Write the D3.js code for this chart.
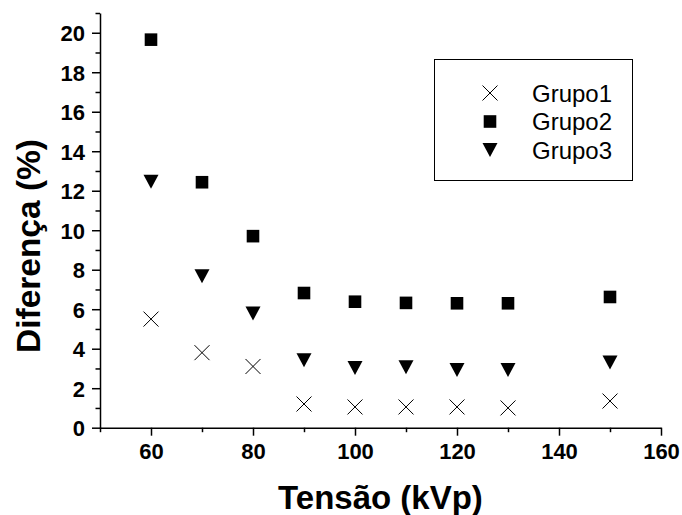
<!DOCTYPE html>
<html lang="pt">
<head>
  <meta charset="UTF-8">
  <title>Diferença (%) vs Tensão (kVp)</title>
  <script src="https://d3js.org/d3.v7.min.js"></script>
  <style>
    body { margin: 0; background: #fff; }
    text { font-family: Arial, "Liberation Sans", sans-serif; fill: #000; }
  </style>
</head>
<body>
<script>
// data
const tensao = [60, 70, 80, 90, 100, 110, 120, 130, 150];
const grupo1 = [5.5, 3.8, 3.1, 1.2, 1.05, 1.05, 1.05, 1.0, 1.35];
const grupo2 = [19.65, 12.43, 9.7, 6.82, 6.38, 6.32, 6.3, 6.3, 6.62];
const grupo3 = [12.45, 7.67, 5.78, 3.42, 3.02, 3.06, 2.92, 2.92, 3.3];
const seriesNames = ["Grupo1", "Grupo2", "Grupo3"];
const xMajorTicks = [60, 80, 100, 120, 140, 160];
const yMajorTicks = [0, 2, 4, 6, 8, 10, 12, 14, 16, 18, 20];

const width = 682, height = 515;
const svg = d3.select("body").append("svg")
  .attr("width", width)
  .attr("height", height);

const x = d3.scaleLinear().domain([50, 160]).range([100, 661]);
const y = d3.scaleLinear().domain([0, 21]).range([427.7, 13]);

// marker shapes, centred on their bounding boxes
const shapes = {
  Grupo1: "M-7.5,-7.5L7.5,7.5M-7.5,7.5L7.5,-7.5",
  Grupo2: "M-6.3,-6.3H6.3V6.3H-6.3Z",
  Grupo3: "M-7.5,-7L7.5,-7L0,7Z"
};

// axes: minor ticks first, then major ticks with labels
const xMinor = d3.range(50, 161, 10).filter(v => !xMajorTicks.includes(v));
const yMinor = d3.range(1, 22, 2);

svg.append("g")
  .attr("transform", `translate(0,${y(0)})`)
  .call(d3.axisBottom(x).tickValues(xMinor).tickSize(4.5).tickFormat(""))
  .call(g => g.select(".domain").remove());

const xAxis = svg.append("g")
  .attr("transform", `translate(0,${y(0)})`)
  .call(d3.axisBottom(x).tickValues(xMajorTicks).tickSize(8).tickSizeOuter(0).tickPadding(8));

svg.append("g")
  .attr("transform", `translate(${x(50)},0)`)
  .call(d3.axisLeft(y).tickValues(yMinor).tickSize(4.5).tickFormat(""))
  .call(g => g.select(".domain").remove());

const yAxis = svg.append("g")
  .attr("transform", `translate(${x(50)},0)`)
  .call(d3.axisLeft(y).tickValues(yMajorTicks).tickSize(8).tickSizeOuter(0).tickPadding(7));

svg.selectAll(".domain, .tick line")
  .attr("stroke", "#000")
  .attr("stroke-width", 1.5);

xAxis.selectAll("text")
  .style("font-size", "22px")
  .style("font-weight", "bold");
yAxis.selectAll("text")
  .style("font-size", "22px")
  .style("font-weight", "bold")
  .attr("dy", "0.36em");

// axis titles
svg.append("text")
  .attr("x", (x(50) + x(160)) / 2)
  .attr("y", 508.5)
  .attr("text-anchor", "middle")
  .style("font-size", "33px")
  .style("font-weight", "bold")
  .text("Tensão (kVp)");

svg.append("text")
  .attr("transform", "translate(39.5,246) rotate(-90)")
  .attr("text-anchor", "middle")
  .attr("textLength", 214)
  .attr("lengthAdjust", "spacingAndGlyphs")
  .style("font-size", "33px")
  .style("font-weight", "bold")
  .text("Diferença (%)");

// points
const allSeries = [grupo1, grupo2, grupo3];
allSeries.forEach((vals, i) => {
  const name = seriesNames[i];
  const marks = svg.append("g").selectAll("path")
    .data(vals.map((v, j) => [tensao[j], v]))
    .join("path")
    .attr("transform", d => `translate(${x(d[0])},${y(d[1])})`)
    .attr("d", shapes[name]);
  if (name === "Grupo1") {
    marks.attr("fill", "none").attr("stroke", "#000").attr("stroke-width", 1);
  } else {
    marks.attr("fill", "#000");
  }
});

// legend
const legend = svg.append("g");
legend.append("rect")
  .attr("x", 434.5).attr("y", 59.5)
  .attr("width", 198).attr("height", 121)
  .attr("fill", "#fff")
  .attr("stroke", "#000")
  .attr("stroke-width", 1);

seriesNames.forEach((name, i) => {
  const cy = 93 + i * 28.5;
  const m = legend.append("path")
    .attr("transform", `translate(490,${cy})`)
    .attr("d", shapes[name]);
  if (name === "Grupo1") {
    m.attr("fill", "none").attr("stroke", "#000").attr("stroke-width", 1);
  } else {
    m.attr("fill", "#000");
  }
  legend.append("text")
    .attr("x", 532)
    .attr("y", cy)
    .attr("dy", "0.36em")
    .style("font-size", "24px")
    .text(name);
});
</script>
</body>
</html>
